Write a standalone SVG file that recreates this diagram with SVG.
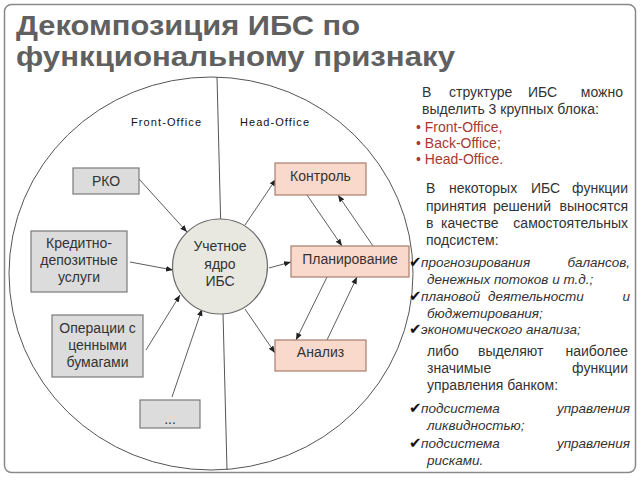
<svg xmlns="http://www.w3.org/2000/svg" width="640" height="480" viewBox="0 0 640 480">
<defs>
<style>
.title{font-family:"Liberation Sans",Arial,sans-serif;font-weight:bold;font-size:28px;fill:#606060;}
.lbl{font-family:"Liberation Sans",Arial,sans-serif;font-size:11px;fill:#111;}
.box{font-family:"Liberation Sans",Arial,sans-serif;font-size:14px;fill:#333;text-anchor:middle;}
.gray{fill:#dcdcdc;stroke:#7a7a7a;stroke-width:1.2;}
.pink{fill:#f9d9cb;stroke:#a87c6c;stroke-width:1.2;}
.body{font-family:"Liberation Sans",Arial,sans-serif;font-size:14px;fill:#333;}
.it{font-family:"Liberation Sans",Arial,sans-serif;font-size:13.5px;fill:#333;font-style:italic;}
.e{text-anchor:end;}
.red{fill:#a53a32;}
.chk{font-family:"DejaVu Sans",sans-serif;font-size:15px;fill:#111;font-style:normal;font-weight:bold;}
.c{stroke:#333;stroke-width:0.8;fill:none;marker-end:url(#ah);}
</style>
<marker id="ah" viewBox="0 0 10 10" refX="10" refY="5" markerWidth="7" markerHeight="7" markerUnits="userSpaceOnUse" orient="auto">
<path d="M0,1 L10,5 L0,9 z" fill="#222"/>
</marker>
</defs>
<rect x="0" y="0" width="640" height="480" fill="#fff"/>
<rect x="4.5" y="4.5" width="631" height="468" rx="7" fill="none" stroke="#8a8a8a" stroke-width="1.5"/>
<g id="title">
<text class="title" x="16" y="35" textLength="344" lengthAdjust="spacingAndGlyphs">Декомпозиция ИБС по</text>
<text class="title" x="16" y="66" textLength="439" lengthAdjust="spacingAndGlyphs">функциональному признаку</text>
</g>
<g id="frame">
<ellipse cx="211" cy="273.5" rx="202" ry="196.5" fill="none" stroke="#555" stroke-width="1"/>
<line x1="217" y1="77" x2="227" y2="470" stroke="#555" stroke-width="1"/>
<text class="lbl" x="131" y="126" textLength="70">Front-Office</text>
<text class="lbl" x="240" y="126" textLength="69">Head-Office</text>
</g>
<g id="connectors">
<line class="c" x1="139" y1="179" x2="187" y2="232"/>
<line class="c" x1="130" y1="262" x2="173" y2="270"/>
<line class="c" x1="146" y1="350" x2="180" y2="295"/>
<line class="c" x1="172" y1="397" x2="202" y2="309"/>
<line class="c" x1="245" y1="225" x2="276" y2="179"/>
<line class="c" x1="269" y1="268" x2="291" y2="262"/>
<line class="c" x1="245" y1="309" x2="275" y2="353"/>
<line class="c" x1="307" y1="195" x2="342" y2="246"/>
<line class="c" x1="373" y1="246" x2="338" y2="195"/>
<line class="c" x1="327" y1="277" x2="296" y2="340"/>
<line class="c" x1="327" y1="340" x2="357" y2="277"/>
</g>
<g id="core">
<circle cx="220" cy="266.5" r="47.5" fill="#e8e8e0" stroke="#6a6a6a" stroke-width="1.2"/>
<text class="box" x="220" y="251">Учетное</text>
<text class="box" x="220" y="269">ядро</text>
<text class="box" x="220" y="286">ИБС</text>
</g>
<g id="rko">
<rect class="gray" x="73" y="168" width="66" height="26"/>
<text class="box" x="106" y="186">РКО</text>
</g>
<g id="credit">
<rect class="gray" x="31" y="231" width="96" height="61"/>
<text class="box" x="79" y="248">Кредитно-</text>
<text class="box" x="79" y="265">депозитные</text>
<text class="box" x="79" y="282">услуги</text>
</g>
<g id="securities">
<rect class="gray" x="52" y="315" width="91" height="62"/>
<text class="box" x="97.5" y="333">Операции с</text>
<text class="box" x="97.5" y="350">ценными</text>
<text class="box" x="97.5" y="367">бумагами</text>
</g>
<g id="etc">
<rect class="gray" x="140" y="400" width="60" height="28"/>
<text class="box" x="170" y="424">...</text>
</g>
<g id="control">
<rect class="pink" x="275" y="163" width="91" height="32"/>
<text class="box" x="320.5" y="181">Контроль</text>
</g>
<g id="planning">
<rect class="pink" x="291" y="246" width="118" height="31"/>
<text class="box" x="350" y="264">Планирование</text>
</g>
<g id="analysis">
<rect class="pink" x="275" y="340" width="91" height="31"/>
<text class="box" x="320.5" y="357">Анализ</text>
</g>
<g id="notes">
<text class="body" y="97"><tspan x="422">В</tspan><tspan x="449">структуре</tspan><tspan x="528">ИБС</tspan></text>
<text class="body e" x="623" y="97">можно</text>
<text class="body" x="422" y="114">выделить 3 крупных блока:</text>
<text class="body red" x="416" y="132">• Front-Office,</text>
<text class="body red" x="416" y="148">• Back-Office;</text>
<text class="body red" x="416" y="164">• Head-Office.</text>
<text class="body" y="193"><tspan x="426">В</tspan><tspan x="449">некоторых</tspan><tspan x="531">ИБС</tspan></text>
<text class="body e" x="628" y="193">функции</text>
<text class="body" y="211"><tspan x="426">принятия</tspan><tspan x="493">решений</tspan></text>
<text class="body e" x="628" y="211">выносятся</text>
<text class="body" y="228"><tspan x="426">в</tspan><tspan x="441">качестве</tspan></text>
<text class="body e" x="628" y="228">самостоятельных</text>
<text class="body" x="426" y="245">подсистем:</text>
<text class="it" y="267"><tspan class="chk" x="409">✔</tspan><tspan x="421">прогнозирования</tspan></text>
<text class="it e" x="630" y="267">балансов,</text>
<text class="it" x="427" y="284">денежных потоков и т.д.;</text>
<text class="it" y="301"><tspan class="chk" x="409">✔</tspan><tspan x="421">плановой</tspan><tspan x="488">деятельности</tspan></text>
<text class="it e" x="630" y="301">и</text>
<text class="it" x="427" y="318">бюджетирования;</text>
<text class="it" y="334"><tspan class="chk" x="409">✔</tspan><tspan x="421">экономического анализа;</tspan></text>
<text class="body" y="356"><tspan x="427">либо</tspan><tspan x="478">выделяют</tspan></text>
<text class="body e" x="628" y="356">наиболее</text>
<text class="body" x="427" y="373">значимые</text>
<text class="body e" x="628" y="373">функции</text>
<text class="body" x="427" y="390">управления банком:</text>
<text class="it" y="413"><tspan class="chk" x="409">✔</tspan><tspan x="421">подсистема</tspan></text>
<text class="it e" x="630" y="413">управления</text>
<text class="it" x="427" y="430">ликвидностью;</text>
<text class="it" y="448"><tspan class="chk" x="409">✔</tspan><tspan x="421">подсистема</tspan></text>
<text class="it e" x="630" y="448">управления</text>
<text class="it" x="427" y="465">рисками.</text>
</g>
</svg>
